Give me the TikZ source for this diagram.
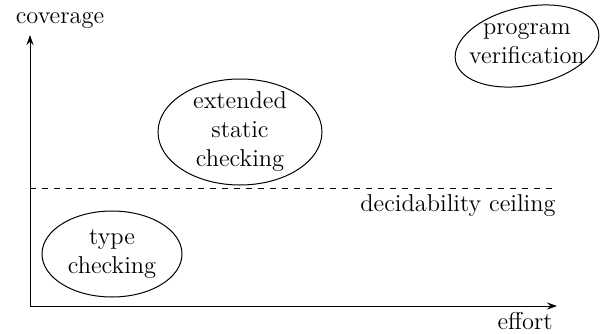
\documentclass[tikz,border=0pt]{standalone}
\usetikzlibrary{arrows.meta}

\begin{document}
\begin{tikzpicture}[x=0.5pt,y=0.5pt,
    every node/.style={font=\fontsize{12.2}{14.5}\selectfont},
    area/.style={align=center,inner sep=0pt},
    axis/.style={-{Stealth[length=5pt,width=3.5pt]},line width=0.5pt}]
    \useasboundingbox (0,0) rectangle (601,333);
    \coordinate (o) at (30,27);
    \coordinate (ytop) at (30,298);
    \coordinate (xend) at (557,27);
    \coordinate (cl) at (30,145);
    \coordinate (cr) at (557,145);
    % axes
    \draw[axis] (o) -- (ytop);
    \draw[axis] (o) -- (xend);
    \node (cov) at (60,313) {coverage};
    \node[anchor=north east,inner sep=0pt] (eff) at (553,21) {effort};
    % ceiling
    \draw[dashed,line width=0.5pt] (cl) -- (cr);
    \node[anchor=north east,inner sep=0pt] (ceil) at (556,139) {decidability ceiling};
    % areas
    \node[area] (tc) at (112,79) {type\\checking};
    \node[area] (esc) at (240,201) {extended\\static\\checking};
    \node[area] (pv) at (527,289) {program\\verification};
    \draw[line width=0.5pt] (tc) ellipse [x radius=70, y radius=43];
    \draw[line width=0.5pt] (esc) ellipse [x radius=82, y radius=53];
    \draw[line width=0.5pt,rotate around={12:(527,287)}] (527,287) ellipse [x radius=73, y radius=39];
\end{tikzpicture}
\end{document}
